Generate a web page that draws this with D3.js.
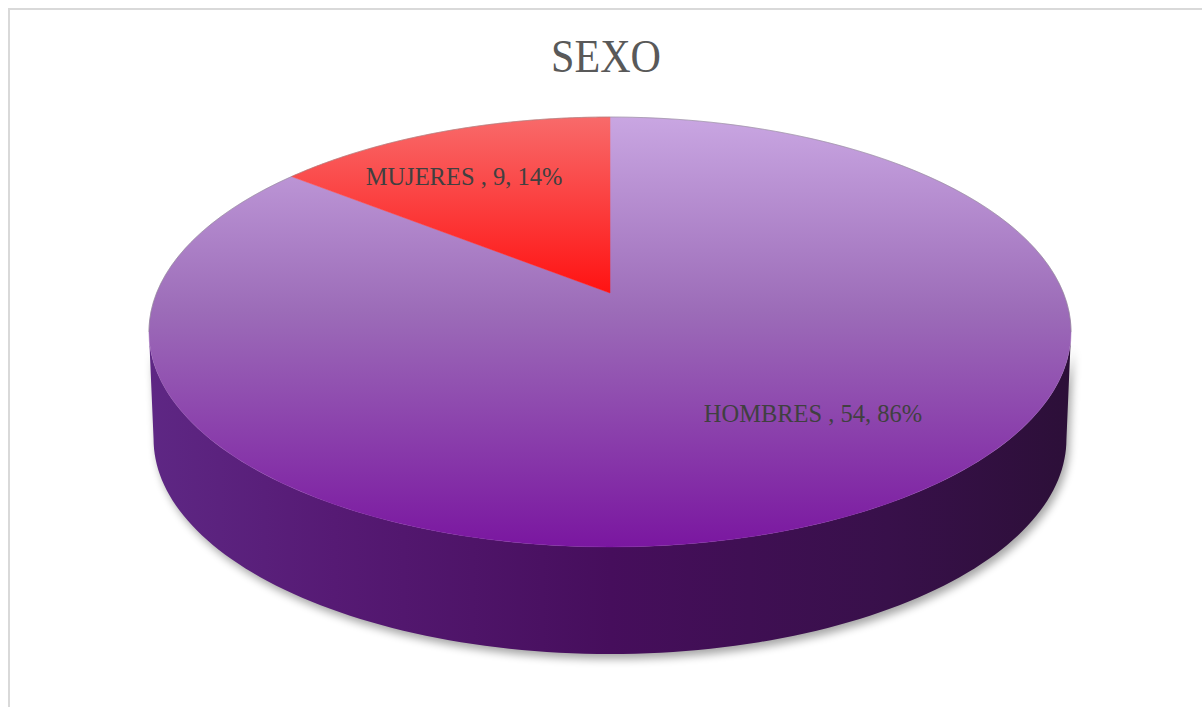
<!DOCTYPE html>
<html>
<head>
<meta charset="utf-8">
<script src="https://cdn.jsdelivr.net/npm/d3@7"></script>
<style>
  body { margin: 0; background: #fff; }
  svg { display: block; }
</style>
</head>
<body>
<script>
// data
const categories = ["HOMBRES", "MUJERES"];
const values = [54, 9];
const chartTitle = "SEXO";

// layout
const W = 1202, H = 707;
const cx = 610, apexY = 293;      // projected centre of the top face
const k = 0.1814;                 // perspective strength
const ax = 453.4, by = 207.9;     // disc scale (x, y)
const depth = 107;                // thickness of the pie
const labelXY = [[813, 422], [464, 185]];

const svg = d3.select("body").append("svg").attr("width", W).attr("height", H);
const defs = svg.append("defs");

// chart border
svg.append("rect").attr("x", 9).attr("y", 9).attr("width", W + 10).attr("height", H + 10)
  .attr("fill", "none").attr("stroke", "#d9d9d9").attr("stroke-width", 2);

svg.append("text").text(chartTitle)
  .attr("x", 606).attr("y", 72).attr("text-anchor", "middle")
  .attr("font-family", "'Liberation Serif', 'Times New Roman', serif")
  .attr("font-size", 46).attr("textLength", 110).attr("lengthAdjust", "spacingAndGlyphs")
  .attr("fill", "#595959");

// gradients
function vGrad(id, stops, y1, y2) {
  const g = defs.append("linearGradient").attr("id", id)
    .attr("gradientUnits", "userSpaceOnUse").attr("x1", 0).attr("x2", 0).attr("y1", y1).attr("y2", y2);
  stops.forEach(s => g.append("stop").attr("offset", s[0]).attr("stop-color", s[1]));
}
vGrad("topPurple", [[0, "#c9a6e2"], [0.45, "#9c6cb8"], [1, "#7a16a0"]], 117, 548);
vGrad("topRed", [[0, "#f86a6a"], [1, "#ff1212"]], 117, 293);
const sg = defs.append("linearGradient").attr("id", "sidePurple")
  .attr("gradientUnits", "userSpaceOnUse").attr("x1", 150).attr("x2", 1072).attr("y1", 0).attr("y2", 0);
[[0, "#5e2784"], [0.2, "#561a74"], [0.5, "#460e5c"], [0.8, "#38104a"], [1, "#2c0f38"]]
  .forEach(s => sg.append("stop").attr("offset", s[0]).attr("stop-color", s[1]));

const blur = defs.append("filter").attr("id", "shadow")
  .attr("x", "-10%").attr("y", "-10%").attr("width", "120%").attr("height", "130%");
blur.append("feGaussianBlur").attr("stdDeviation", 4);

const fills = ["url(#topPurple)", "url(#topRed)"];

// perspective projection of a point on the disc (angle clockwise from 12 o'clock)
function proj(theta, r, level) {
  const u = r * Math.sin(theta), v = r * Math.cos(theta);
  const d = 1 + k * v;
  const s = level ? 0.99 : 1;
  return [cx + s * ax * u / d, apexY - by * v / d + (level ? depth : 0)];
}

const pie = d3.pie().sort(null)(values);
const line = d3.line().curve(d3.curveLinear);
const steps = a => d3.range(0, 1.0001, 1 / 120).map(t => a[0] + (a[1] - a[0]) * t);

// visible side: front half, between the two horizontal extremes
const tR = Math.PI / 2 + Math.asin(k), tL = 1.5 * Math.PI - Math.asin(k);
const sidePts = steps([tR, tL]).map(t => proj(t, 1, false))
  .concat(steps([tL, tR]).map(t => proj(t, 1, true)));

svg.append("path").attr("d", line(sidePts.map(p => [p[0] + 3, p[1] + 5])) + "Z")
  .attr("fill", "#000").attr("opacity", 0.35).attr("filter", "url(#shadow)");
svg.append("path").attr("d", line(sidePts) + "Z").attr("fill", "url(#sidePurple)");

// top faces
svg.selectAll(".slice").data(pie).enter().append("path")
  .attr("class", "slice")
  .attr("d", d => line([[cx, apexY]].concat(steps([d.startAngle, d.endAngle]).map(t => proj(t, 1, false)))) + "Z")
  .attr("fill", (d, i) => fills[i])
  .attr("stroke", (d, i) => fills[i]).attr("stroke-width", 0.5);

// faint rim on the top outline
svg.append("path")
  .attr("d", line(steps([tL - 2 * Math.PI, tR]).map(t => proj(t, 1, false))))
  .attr("fill", "none").attr("stroke", "#8a8a8a").attr("stroke-opacity", 0.5).attr("stroke-width", 1);

const total = d3.sum(values);
const pct = d3.format(".0%");
svg.selectAll(".lbl").data(pie).enter().append("text")
  .attr("class", "lbl")
  .attr("x", (d, i) => labelXY[i][0]).attr("y", (d, i) => labelXY[i][1])
  .attr("text-anchor", "middle")
  .attr("font-family", "'Liberation Serif', 'Times New Roman', serif")
  .attr("font-size", 24.5).attr("fill", "#404040")
  .text((d, i) => categories[i] + " , " + d.value + ", " + pct(d.value / total));
</script>
</body>
</html>
